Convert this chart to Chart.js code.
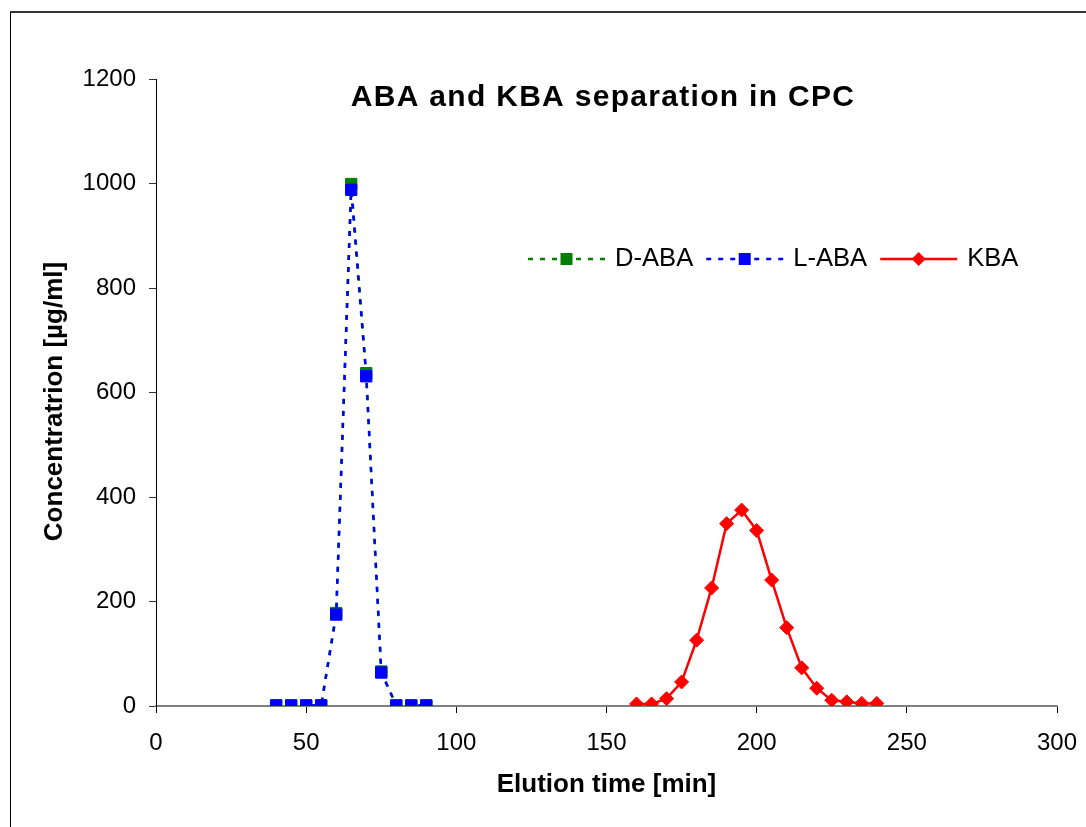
<!DOCTYPE html>
<html>
<head>
<meta charset="utf-8">
<title>ABA and KBA separation in CPC</title>
<script src="https://cdn.jsdelivr.net/npm/chart.js@4.4.1/dist/chart.umd.min.js"></script>
<style>
  html, body { margin: 0; padding: 0; background: #fff; }
  canvas { display: block; }
</style>
</head>
<body>
<canvas id="chart" width="1086" height="827"></canvas>
<script>
const FONT = '"Liberation Sans", Arial, Helvetica, sans-serif';

// Elution times [min] and measured concentrations [µg/ml]
const abaTimes = [40, 45, 50, 55, 60, 65, 70, 75, 80, 85, 90];
const dAbaConc = [1, 1, 1, 1, 178, 999, 637, 66, 1, 1, 1];
const lAbaConc = [1, 1, 1, 1, 175, 988, 631, 64, 1, 1, 1];

const kbaTimes = [160, 165, 170, 175, 180, 185, 190, 195, 200, 205, 210, 215, 220, 225, 230, 235, 240];
const kbaConc  = [4, 4, 14, 46, 126, 226, 349, 375, 336, 241, 150, 73, 34, 11, 8, 5, 5];

const seriesNames = ['D-ABA', 'L-ABA', 'KBA'];
const seriesColors = ['#008000', '#0000ff', '#ff0000'];

const xTickValues = [0, 50, 100, 150, 200, 250, 300];
const yTickValues = [0, 200, 400, 600, 800, 1000, 1200];

const chartTitle = 'ABA and KBA separation in CPC';
const xTitle = 'Elution time [min]';
const yTitle = 'Concentratrion [µg/ml]';

const toPoints = (xs, ys) => xs.map((x, i) => ({ x, y: ys[i] }));

const DASH = [5, 7];

// Frame, chart title, y-axis title and in-plot legend
const decor = {
  id: 'decor',
  beforeDraw(chart) {
    const ctx = chart.ctx;
    ctx.save();
    ctx.fillStyle = '#fff';
    ctx.fillRect(0, 0, chart.width, chart.height);
    ctx.strokeStyle = '#000';
    ctx.lineWidth = 1;
    ctx.beginPath();
    ctx.moveTo(10.5, 12);
    ctx.lineTo(10.5, chart.height + 5);
    ctx.stroke();
    ctx.strokeStyle = '#333';
    ctx.lineWidth = 2;
    ctx.beginPath();
    ctx.moveTo(10, 12);
    ctx.lineTo(chart.width + 5, 12);
    ctx.stroke();
    ctx.restore();
  },
  afterDraw(chart) {
    const ctx = chart.ctx;
    const area = chart.chartArea;
    ctx.save();
    // chart title
    ctx.fillStyle = '#000';
    ctx.font = 'bold 30px ' + FONT;
    if ('letterSpacing' in ctx) ctx.letterSpacing = '1.3px';
    ctx.textAlign = 'center';
    ctx.textBaseline = 'alphabetic';
    ctx.fillText(chartTitle, 603, 106);
    if ('letterSpacing' in ctx) ctx.letterSpacing = '0px';

    // y-axis title
    ctx.save();
    ctx.translate(55, (area.top + area.bottom) / 2 + 9);
    ctx.rotate(-Math.PI / 2);
    ctx.font = 'bold 26px ' + FONT;
    ctx.textAlign = 'center';
    ctx.textBaseline = 'middle';
    ctx.fillText(yTitle, 0, 0);
    ctx.restore();

    // legend
    const ly = 259;
    let lx = 528;
    const sampleW = 77;
    ctx.font = '25.6px ' + FONT;
    ctx.textAlign = 'left';
    ctx.textBaseline = 'middle';
    const styles = ['rect', 'rect', 'rectRot'];
    const dashes = [DASH, DASH, []];
    seriesNames.forEach((name, i) => {
      const col = seriesColors[i];
      ctx.strokeStyle = col;
      ctx.lineWidth = 2.5;
      ctx.setLineDash(dashes[i]);
      ctx.beginPath();
      ctx.moveTo(lx, ly);
      ctx.lineTo(lx + sampleW, ly);
      ctx.stroke();
      ctx.setLineDash([]);
      const cx = lx + sampleW / 2;
      ctx.fillStyle = col;
      ctx.beginPath();
      if (styles[i] === 'rect') {
        ctx.rect(cx - 6, ly - 6, 12, 12);
      } else {
        ctx.moveTo(cx, ly - 7);
        ctx.lineTo(cx + 7, ly);
        ctx.lineTo(cx, ly + 7);
        ctx.lineTo(cx - 7, ly);
        ctx.closePath();
      }
      ctx.fill();
      ctx.fillStyle = '#000';
      const tx = lx + sampleW + 10;
      ctx.fillText(name, tx, ly);
      lx = tx + ctx.measureText(name).width + 13;
    });
    ctx.restore();
  }
};

new Chart(document.getElementById('chart'), {
  type: 'scatter',
  data: {
    datasets: [
      {
        label: seriesNames[0],
        data: toPoints(abaTimes, dAbaConc),
        showLine: true,
        order: 1,
        borderColor: seriesColors[0],
        backgroundColor: seriesColors[0],
        borderWidth: 2.5,
        borderDash: DASH,
        pointStyle: 'rect',
        pointRadius: 8,
        pointBorderWidth: 1,
        pointBorderColor: seriesColors[0],
        pointBackgroundColor: seriesColors[0]
      },
      {
        label: seriesNames[1],
        data: toPoints(abaTimes, lAbaConc),
        showLine: true,
        order: 0,
        borderColor: seriesColors[1],
        backgroundColor: seriesColors[1],
        borderWidth: 2.5,
        borderDash: DASH,
        pointStyle: 'rect',
        pointRadius: 8,
        pointBorderWidth: 1,
        pointBorderColor: seriesColors[1],
        pointBackgroundColor: seriesColors[1]
      },
      {
        label: seriesNames[2],
        data: toPoints(kbaTimes, kbaConc),
        showLine: true,
        order: 2,
        borderColor: seriesColors[2],
        backgroundColor: seriesColors[2],
        borderWidth: 2.5,
        pointStyle: 'rectRot',
        pointRadius: 7,
        pointBorderWidth: 1,
        pointBorderColor: seriesColors[2],
        pointBackgroundColor: seriesColors[2]
      }
    ]
  },
  options: {
    responsive: false,
    animation: false,
    events: [],
    layout: { padding: { top: 79, right: 29, bottom: 0, left: 0 } },
    plugins: {
      legend: { display: false },
      tooltip: { enabled: false },
      title: { display: false }
    },
    scales: {
      x: {
        type: 'linear',
        min: 0,
        max: 300,
        afterBuildTicks: s => { s.ticks = xTickValues.map(v => ({ value: v })); },
        afterFit: s => { s.height = 121; s.paddingLeft = 0; s.paddingRight = 0; },
        grid: { drawOnChartArea: false, drawTicks: true, tickLength: 7, color: '#000', lineWidth: 1 },
        border: { display: true, color: '#808080', width: 2 },
        ticks: {
          font: { family: FONT, size: 24 }, color: '#000', padding: 16, maxRotation: 0,
          callback: v => String(v)
        },
        title: {
          display: true, text: xTitle, color: '#000',
          font: { family: FONT, size: 26, weight: 'bold' },
          padding: { top: 0, bottom: 27 }
        }
      },
      y: {
        type: 'linear',
        min: 0,
        max: 1200,
        afterBuildTicks: s => { s.ticks = yTickValues.map(v => ({ value: v })); },
        afterFit: s => { s.width = 156; },
        grid: { drawOnChartArea: false, drawTicks: true, tickLength: 7, color: '#333', lineWidth: 1 },
        border: { display: true, color: '#000', width: 1 },
        ticks: {
          font: { family: FONT, size: 24 }, color: '#000', padding: 13,
          callback: v => String(v)
        },
        title: { display: false }
      }
    }
  },
  plugins: [decor]
});
</script>
</body>
</html>
